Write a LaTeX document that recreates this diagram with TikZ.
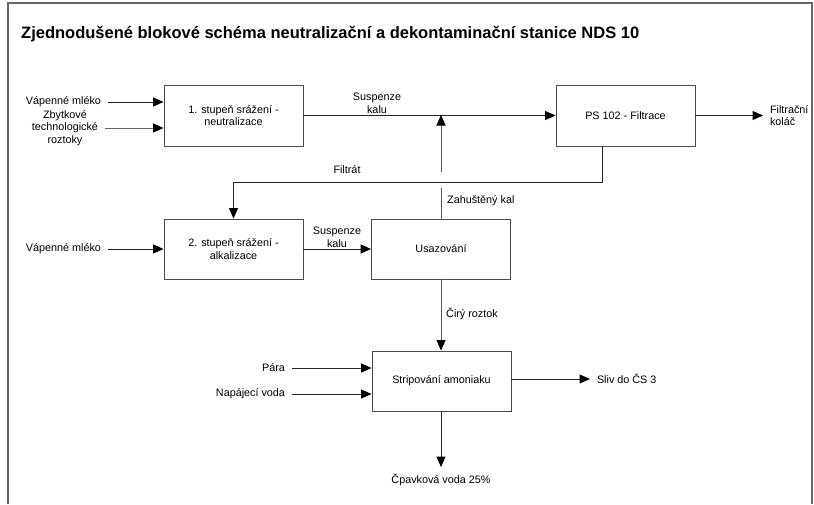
\documentclass[tikz,border=0pt]{standalone}
\usepackage{fontspec}
\setmainfont{Liberation Sans}
\usetikzlibrary{arrows.meta}

\begin{document}
\begin{tikzpicture}[
    x=1pt, y=-1pt,
    txt/.style={font=\fontsize{10.8}{12.8}\selectfont, inner sep=1pt, align=center},
    lbl/.style={txt, outer sep=6pt},
    blok/.style={draw=black!70, line width=0.9pt, minimum width=139pt, minimum height=61pt,
                 txt, inner sep=3pt},
    line/.style={black!85, line width=1pt},
    arr/.style={line, -{Triangle[length=10.5pt, width=9pt, color=black]}}
]
\useasboundingbox (0,0) rectangle (814,504);

% --- Frame and title ---
\draw[black!60, line width=1.4pt] (8,504) -- (8,3) -- (812,3) -- (812,504);
\node[anchor=base west, inner sep=0pt, font=\fontsize{16.5}{19}\selectfont\bfseries] (title)
    at (21,38) {Zjednodušené blokové schéma neutralizační a dekontaminační stanice NDS 10};

% --- Blocks ---
\node[blok] (neut) at (233.5,115.5) {1. stupeň srážení -\\neutralizace};
\node[blok] (filtr) at (625.5,115.5) {PS 102 - Filtrace};
\node[blok, minimum height=60pt] (alk) at (233.5,249) {2. stupeň srážení -\\alkalizace};
\node[blok, minimum height=60pt] (usaz) at (441,249) {Usazování};
\node[blok, minimum height=60pt] (strip) at (441.5,381) {Stripování amoniaku};

% --- Inputs and outputs ---
\node[lbl, anchor=east] (vm1) at (108,102) {Vápenné mléko};
\node[lbl, anchor=east] (zbyt) at (105,128) {Zbytkové\\technologické\\roztoky};
\node[lbl, anchor=east] (vm2) at (108,249) {Vápenné mléko};
\node[lbl, anchor=east] (para) at (292,368) {Pára};
\node[lbl, anchor=east] (napv) at (292,394) {Napájecí voda};
\node[lbl, anchor=west, align=left] (kolac) at (763,115.5) {Filtrační\\koláč};
\node[lbl, anchor=west] (sliv) at (590,379) {Sliv do ČS 3};
\node[lbl, anchor=north] (cpav) at (441,467) {Čpavková voda 25\%};

% Helper points
\coordinate (jn) at (441,116);
\coordinate (gapt) at (441,172);
\coordinate (gapb) at (441,188);
\coordinate (fcorner) at (602,182);

% --- Connectors ---
\draw[arr] (vm1) -- (vm1 -| neut.west);
\draw[arr, black!60] (zbyt) -- (zbyt -| neut.west);
\draw[arr] (neut) -- (filtr);
\draw[arr] (filtr) -- (kolac);
\draw[arr] (fcorner |- filtr.south) -- (fcorner) -| (alk.north);
\draw[line, black!65] (usaz.north) -- (gapb);
\draw[arr, black!65, shorten >=-1pt] (gapt) -- (jn);
\draw[arr] (vm2) -- (vm2 -| alk.west);
\draw[arr] (alk) -- (usaz);
\draw[arr, black!65] (usaz) -- (usaz.south |- strip.north);
\draw[arr] (para) -- (para -| strip.west);
\draw[arr] (napv) -- (napv -| strip.west);
\draw[arr] (strip.east |- sliv) -- (sliv);
\draw[arr] (strip.south -| usaz.south) -- (cpav);

% --- Flow labels ---
\node[txt] (susp1) at (377,103) {Suspenze\\kalu};
\node[txt] (filtrat) at (347,170) {Filtrát};
\node[txt, anchor=west] (zahus) at (446,201) {Zahuštěný kal};
\node[txt] (susp2) at (337,237) {Suspenze\\kalu};
\node[txt, anchor=west] (ciry) at (445,314) {Čirý roztok};

\end{tikzpicture}
\end{document}
